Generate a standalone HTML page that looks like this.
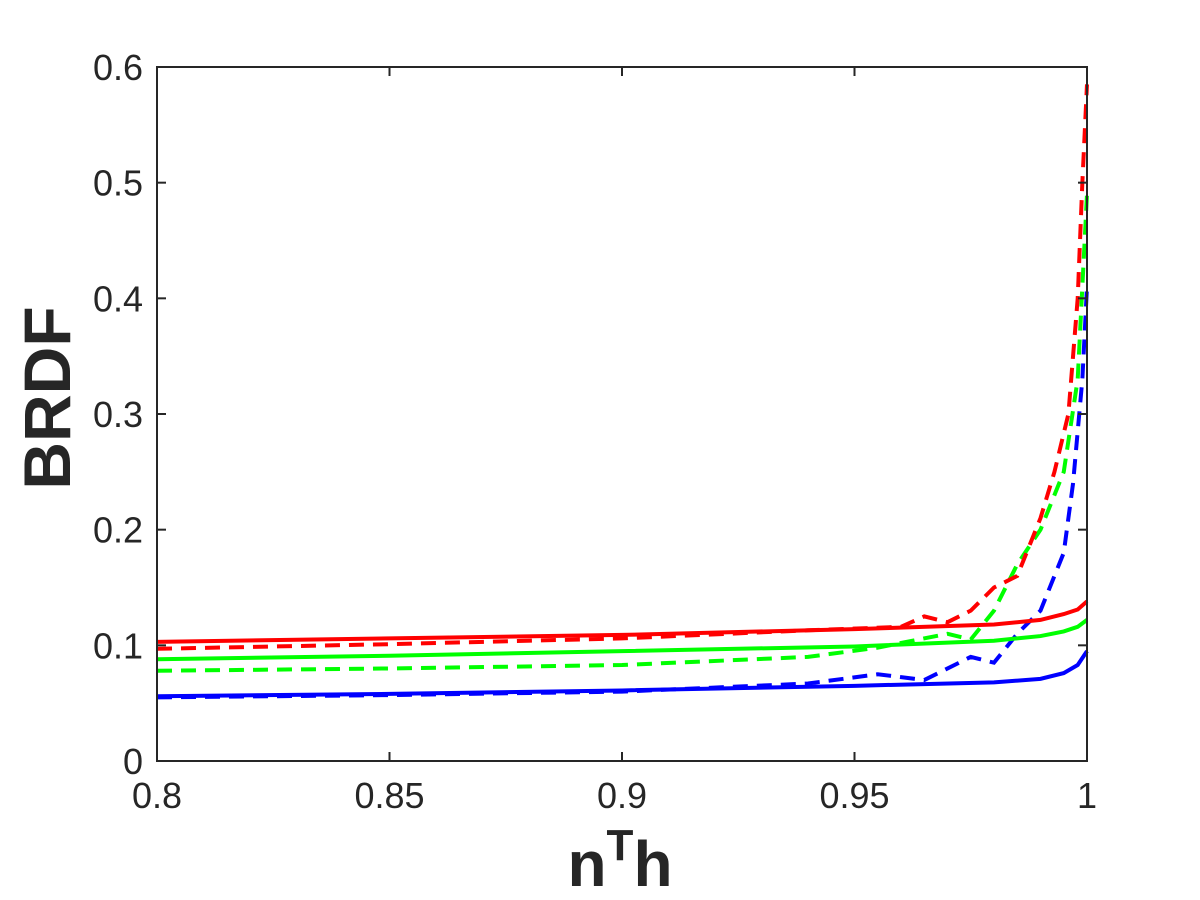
<!DOCTYPE html>
<html><head><meta charset="utf-8"><style>
body{margin:0;background:#fff}
svg{display:block;font-family:"Liberation Sans",Arial,sans-serif}
</style></head><body>
<svg id="chart" width="1200" height="900">
<rect x="0" y="0" width="1200" height="900" fill="#fff"/>
<rect x="157" y="67" width="930" height="694" fill="#fff"/>
<g id="series"></g>
<g id="axes"></g>
<text x="620" y="886" text-anchor="middle" font-size="64" font-weight="bold" fill="#262626">n<tspan dy="-26" font-size="44">T</tspan><tspan dy="26">h</tspan></text>
<text transform="translate(70,398) rotate(-90)" text-anchor="middle" font-size="66" font-weight="bold" fill="#262626">BRDF</text>
</svg>
<script>
const xTicks=[0.8,0.85,0.9,0.95,1];
const xTickLabels=["0.8","0.85","0.9","0.95","1"];
const yTicks=[0,0.1,0.2,0.3,0.4,0.5,0.6];
const yTickLabels=["0","0.1","0.2","0.3","0.4","0.5","0.6"];
const solidX=[0.8,0.85,0.9,0.95,0.98,0.99,0.995,0.998,1];
const redSolid=[0.103,0.106,0.109,0.114,0.118,0.122,0.127,0.131,0.138];
const greenSolid=[0.088,0.091,0.095,0.099,0.104,0.108,0.112,0.116,0.122];
const blueSolid=[0.056,0.058,0.061,0.065,0.068,0.071,0.076,0.083,0.095];
const redDashX=[0.8,0.85,0.9,0.94,0.96,0.965,0.97,0.975,0.98,0.985,0.99,0.993,0.996,0.998,0.999,1];
const redDash=[0.097,0.101,0.106,0.113,0.116,0.125,0.12,0.13,0.15,0.16,0.21,0.25,0.3,0.4,0.5,0.585];
const greenDashX=[0.8,0.85,0.9,0.94,0.955,0.97,0.975,0.98,0.985,0.99,0.995,0.998,1];
const greenDash=[0.078,0.08,0.083,0.09,0.098,0.11,0.105,0.13,0.17,0.2,0.25,0.33,0.49];
const blueDashX=[0.8,0.85,0.9,0.94,0.955,0.965,0.975,0.98,0.985,0.99,0.993,0.995,0.997,0.999,1];
const blueDash=[0.055,0.057,0.06,0.067,0.075,0.07,0.09,0.085,0.11,0.13,0.16,0.18,0.24,0.33,0.41];

const NS="http://www.w3.org/2000/svg";
const X0=157,X1=1087,Y0=761,Y1=67;
function sx(v){return X0+(v-0.8)/0.2*(X1-X0);}
function sy(v){return Y0-(v/0.6)*(Y0-Y1);}
const sg=document.getElementById('series'), ag=document.getElementById('axes');
function line(xs,ys,color,dash,name){
  const p=document.createElementNS(NS,'polyline');
  p.setAttribute('points',xs.map((x,i)=>sx(x)+','+sy(ys[i])).join(' '));
  p.setAttribute('fill','none');p.setAttribute('stroke',color);p.setAttribute('stroke-width','4');
  if(dash)p.setAttribute('stroke-dasharray','15,9');
  
  
  sg.appendChild(p);
}
line(blueDashX,blueDash,'#0000ff',true,'blue-dashed-line');
line(greenDashX,greenDash,'#00ff00',true,'green-dashed-line');
line(redDashX,redDash,'#ff0000',true,'red-dashed-line');
line(solidX,blueSolid,'#0000ff',false,'blue-solid-line');
line(solidX,greenSolid,'#00ff00',false,'green-solid-line');
line(solidX,redSolid,'#ff0000',false,'red-solid-line');

const box=document.createElementNS(NS,'rect');
box.setAttribute('x',X0);box.setAttribute('y',Y1);box.setAttribute('width',X1-X0);box.setAttribute('height',Y0-Y1);
box.setAttribute('fill','none');box.setAttribute('stroke','#262626');box.setAttribute('stroke-width','2');


ag.appendChild(box);
xTicks.forEach((v,i)=>{
  const x=sx(v);
  [[Y0,Y0-9],[Y1,Y1+9]].forEach(([a,b])=>{
    const t=document.createElementNS(NS,'line');
    t.setAttribute('x1',x);t.setAttribute('x2',x);t.setAttribute('y1',a);t.setAttribute('y2',b);
    t.setAttribute('stroke','#262626');t.setAttribute('stroke-width','2');
    
    
    ag.appendChild(t);
  });
  const l=document.createElementNS(NS,'text');
  l.setAttribute('x',x);l.setAttribute('y',808);l.setAttribute('text-anchor','middle');
  l.setAttribute('font-size','36');l.setAttribute('fill','#262626');
  l.textContent=xTickLabels[i];
  
  
  ag.appendChild(l);
});
yTicks.forEach((v,i)=>{
  const y=sy(v);
  [[X0,X0+9],[X1,X1-9]].forEach(([a,b])=>{
    const t=document.createElementNS(NS,'line');
    t.setAttribute('x1',a);t.setAttribute('x2',b);t.setAttribute('y1',y);t.setAttribute('y2',y);
    t.setAttribute('stroke','#262626');t.setAttribute('stroke-width','2');
    
    
    ag.appendChild(t);
  });
  const l=document.createElementNS(NS,'text');
  l.setAttribute('x',143);l.setAttribute('y',y+13);l.setAttribute('text-anchor','end');
  l.setAttribute('font-size','36');l.setAttribute('fill','#262626');
  l.textContent=yTickLabels[i];
  
  
  ag.appendChild(l);
});
</script>
</body></html>
